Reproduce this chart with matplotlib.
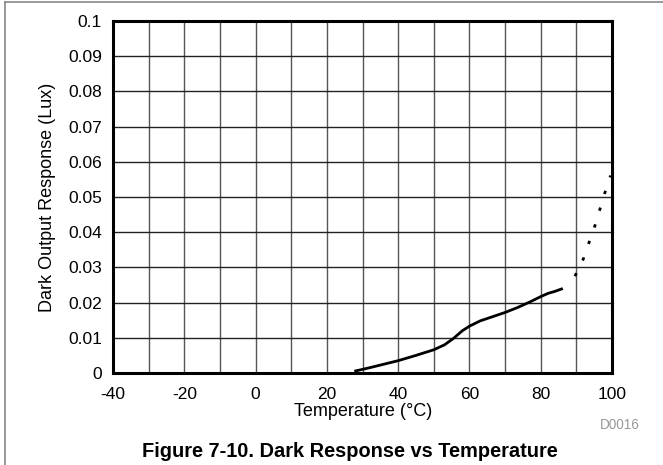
import matplotlib
matplotlib.use('Agg')
import matplotlib.pyplot as plt
from matplotlib.lines import Line2D

plt.rcParams['font.family'] = ['Liberation Sans', 'DejaVu Sans']
plt.rcParams['axes.unicode_minus'] = False

# measured part of the curve
temp_solid = [27.7, 32, 36, 40, 45, 50, 53, 55.5, 58, 60, 63, 66.5, 70, 73.5, 77, 80, 82, 84, 86.2]
resp_solid = [0.0005, 0.0015, 0.0025, 0.0035, 0.005, 0.0066, 0.0080, 0.0098, 0.0120, 0.0133,
              0.0148, 0.0160, 0.0172, 0.0186, 0.0202, 0.0217, 0.0226, 0.0232, 0.0240]

# extrapolated (dotted) part
temp_dot = [89.6, 92.0, 93.6, 95.2, 96.6, 98.0, 99.6]
resp_dot = [0.0275, 0.0325, 0.0372, 0.0418, 0.0465, 0.0512, 0.0561]

xticks = [-40, -20, 0, 20, 40, 60, 80, 100]
yticks = [0, 0.01, 0.02, 0.03, 0.04, 0.05, 0.06, 0.07, 0.08, 0.09, 0.1]
ytick_labels = ['0', '0.01', '0.02', '0.03', '0.04', '0.05', '0.06', '0.07', '0.08', '0.09', '0.1']

W, H = 663, 465
fig = plt.figure(figsize=(W / 100, H / 100), dpi=100)
ax = fig.add_axes([113 / W, 1 - 373 / H, (612 - 113) / W, (373 - 21) / H])

ax.plot(temp_solid, resp_solid, color='black', lw=2, solid_capstyle='butt', zorder=3)
ax.plot(temp_dot, resp_dot, color='black', lw=2, linestyle=(0, (1.2, 5.1)), zorder=3)

ax.set_xlim(-40, 100)
ax.set_ylim(0, 0.1)
ax.set_xticks(xticks)
ax.set_xticks(range(-30, 100, 20), minor=True)
ax.set_yticks(yticks)
ax.set_yticklabels(ytick_labels)
ax.tick_params(which='both', length=0, labelsize=12.5)
ax.tick_params(axis='x', pad=10)
ax.tick_params(axis='y', pad=8)

ax.grid(True, which='both', axis='x', color='#555555', lw=1)
ax.grid(True, which='major', axis='y', color='#222222', lw=1)
ax.set_axisbelow(True)
for s in ax.spines.values():
    s.set_linewidth(2.2)
    s.set_color('black')

ax.set_ylabel('Dark Output Response (Lux)', fontsize=13)
ax.yaxis.set_label_coords(-0.114, 0.5)

fig.text(363 / W, 1 - 416 / H, 'Temperature (°C)', fontsize=13, ha='center', va='baseline')
fig.text(620 / W, 1 - 429 / H, 'D0016', fontsize=9.8, color='#999999', ha='center', va='baseline')
fig.text(350 / W, 1 - 457 / H, 'Figure 7-10. Dark Response vs Temperature',
         fontsize=14.4, fontweight='bold', ha='center', va='baseline')

# figure frame (top and left edges)
fig.add_artist(Line2D([5 / W, 1], [1 - 2.5 / H, 1 - 2.5 / H], color='#888888', lw=1.2))
fig.add_artist(Line2D([5 / W, 5 / W], [0, 1 - 2.5 / H], color='#888888', lw=1.2))

fig.savefig('out.png', dpi=100)
